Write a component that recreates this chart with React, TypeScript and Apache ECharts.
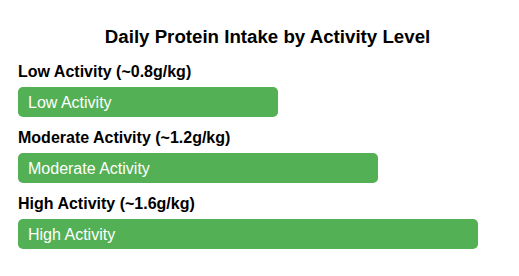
import React, { useEffect, useRef } from "react";
import * as echarts from "echarts";

const categories = ["Low Activity", "Moderate Activity", "High Activity"];
const headings = ["Low Activity (~0.8g/kg)", "Moderate Activity (~1.2g/kg)", "High Activity (~1.6g/kg)"];
const proteinValues = [0.8, 1.2, 1.6];
const axisMin = -0.24;

export default function App() {
  const ref = useRef<HTMLDivElement>(null);
  useEffect(() => {
    if (!ref.current) return;
    const chart = echarts.init(ref.current, null, { renderer: "svg" });
    const font = "Liberation Sans, Arial, sans-serif";
    chart.setOption({
      animation: false,
      title: {
        text: "Daily Protein Intake by Activity Level",
        left: 262.5,
        textAlign: "center",
        top: 22,
        textStyle: { fontFamily: font, fontSize: 18.7, fontWeight: "bold", color: "#000" },
      },
      grid: { left: 18, right: 16, top: 69, bottom: 9 },
      xAxis: { type: "value", min: axisMin, max: 1.7, show: false },
      yAxis: {
        type: "category",
        data: categories,
        inverse: true,
        axisLine: { show: false },
        axisTick: { show: false },
        splitLine: { show: false },
        axisLabel: {
          inside: true,
          margin: 0,
          align: "left",
          verticalAlign: "bottom",
          lineHeight: 16,
          padding: [0, 0, 23, 0],
          fontFamily: font,
          fontSize: 16,
          fontWeight: "bold",
          color: "#000",
          formatter: (_v: string, i: number) => headings[i],
        },
      },
      series: [
        {
          type: "custom",
          data: proteinValues.map((v, i) => [v, i]),
          encode: { x: 0, y: 1 },
          renderItem: (params: any, api: any) => {
            const v = api.value(0);
            const c = api.value(1);
            const start = api.coord([axisMin, c]);
            const end = api.coord([v, c]);
            const h = 30;
            return {
              type: "group",
              children: [
                {
                  type: "rect",
                  shape: { x: start[0], y: start[1] - h / 2, width: end[0] - start[0], height: h, r: 5 },
                  style: { fill: "#54b054" },
                },
                {
                  type: "text",
                  x: start[0] + 10,
                  y: start[1],
                  style: {
                    text: categories[params.dataIndex],
                    fill: "#fff",
                    font: `16px ${font}`,
                    verticalAlign: "middle",
                    align: "left",
                  },
                },
              ],
            };
          },
        },
      ],
    });
    return () => chart.dispose();
  }, []);
  return <div ref={ref} style={{ position: "absolute", left: 0, top: 0, width: 519, height: 276, background: "#fff" }} />;
}
